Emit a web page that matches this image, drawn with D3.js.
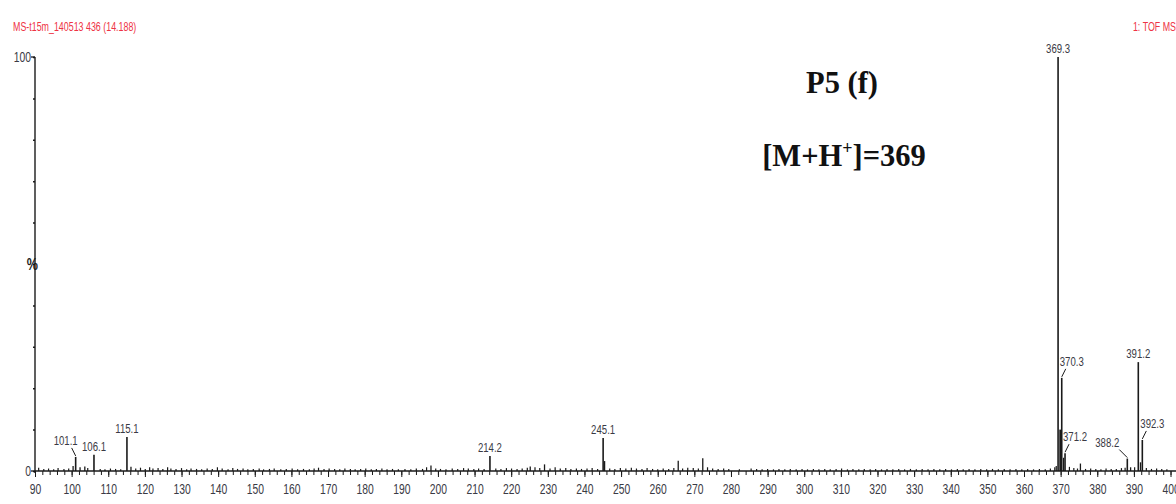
<!DOCTYPE html>
<html>
<head>
<meta charset="utf-8">
<script src="https://cdn.jsdelivr.net/npm/d3@7"></script>
<style>
  html, body { margin: 0; padding: 0; background: #fff; }
  svg { display: block; }
  .narrow { font-family: "Liberation Sans", Arial, sans-serif; }
</style>
</head>
<body>
<svg id="chart" width="1176" height="504"></svg>
<script>
// Spectrum header texts
const runTitle = "MS-t15m_140513 436 (14.188)";
const scanTitle = "1: TOF MS";
const compoundName = "P5 (f)";

// Labelled peaks: m/z, relative intensity (%), label offset direction
const peakMz    = [101.1, 106.1, 115.1, 214.2, 245.1, 369.3, 370.3, 371.2, 388.2, 391.2, 392.3];
const peakInt   = [3.4,   3.9,   8.2,   3.6,   8.0,   100,   22.5,  4.3,   3.0,   26.3,  7.5];
const peakLabel = ["101.1","106.1","115.1","214.2","245.1","369.3","370.3","371.2","388.2","391.2","392.3"];
const peakShift = [-1,    0,     0,     0,     0,     0,     1,     1,     -2,    0,     1];

// Unlabelled secondary peaks
const minorMz  = [100.4, 102.3, 103.6, 116.2, 198.1, 225.2, 229.1, 245.5, 265.6, 272.3, 369.9, 370.8, 375.4, 389.1, 391.8];
const minorInt = [1.2,   0.9,   1.1,   1.0,   1.3,   1.1,   1.6,   2.4,   2.5,   3.1,   10.0,  3.2,   1.8,   0.9,   2.1];

// Baseline chemical noise
const noiseMz = [91.0, 92.4, 93.7, 95.1, 96.3, 97.9, 99.2, 104.4, 107.8, 109.1, 110.6, 112.0, 113.4,
  117.5, 118.8, 120.1, 121.3, 122.2, 123.6, 124.9, 126.2, 127.1, 128.5, 130.0, 131.4, 132.6,
  134.1, 135.5, 137.0, 138.4, 139.8, 141.1, 142.7, 144.0, 145.3, 146.8, 148.1, 149.6, 151.2,
  152.4, 154.0, 155.3, 157.1, 158.6, 160.2, 161.7, 163.3, 164.9, 166.2, 167.4, 168.9, 170.3,
  171.8, 173.2, 174.6, 176.1, 177.4, 178.9, 180.3, 181.8, 183.2, 184.7, 186.1, 187.6, 189.2,
  191.0, 192.6, 194.1, 195.8, 196.9, 199.4, 200.7, 202.2, 203.9, 205.4, 207.0, 208.3, 209.8,
  211.1, 212.6, 215.8, 217.2, 218.7, 220.1, 221.6, 223.0, 224.4, 226.5, 227.8, 230.6, 232.0,
  233.4, 234.9, 236.3, 237.8, 239.2, 240.7, 242.1, 243.6, 246.9, 248.3, 249.8, 251.3, 252.8,
  254.2, 255.7, 257.1, 258.6, 260.0, 261.5, 263.0, 264.4, 266.8, 268.2, 269.7, 271.1, 273.6,
  275.0, 276.5, 278.0, 279.4, 282.3, 285.5, 287.0, 288.5, 290.0, 291.6, 293.1, 294.7, 296.2,
  297.8, 299.4, 300.9, 302.5, 304.0, 305.6, 307.1, 308.7, 310.2, 311.8, 313.3, 314.9, 316.4,
  318.0, 319.5, 321.1, 322.6, 324.2, 325.8, 327.4, 329.0, 330.6, 332.2, 333.8, 335.4, 337.0,
  338.6, 340.2, 341.8, 343.4, 345.0, 346.6, 348.2, 349.8, 351.4, 353.0, 354.6, 356.2, 357.8,
  359.4, 361.0, 362.6, 364.2, 365.8, 367.2, 368.4, 368.8, 372.4, 373.6, 374.6, 376.8, 378.2,
  379.6, 381.0, 382.4, 383.8, 385.2, 386.6, 387.6, 390.2, 393.4, 394.8, 396.2, 397.6, 399.0];
const noiseInt = [0.8, 0.5, 0.6, 0.4, 0.7, 0.5, 0.6, 0.7, 0.5, 0.4, 0.6, 0.5, 0.4,
  0.6, 0.8, 0.5, 0.9, 0.6, 0.7, 0.5, 0.9, 0.6, 0.5, 0.7, 0.4, 0.6,
  0.5, 0.4, 0.6, 0.5, 0.9, 0.6, 0.4, 0.7, 0.5, 0.6, 0.4, 0.5, 0.6,
  0.4, 0.5, 0.6, 0.4, 0.5, 0.6, 0.4, 0.5, 0.4, 0.6, 0.8, 0.5, 0.6,
  0.5, 0.4, 0.6, 0.5, 0.4, 0.5, 0.6, 0.4, 0.5, 0.6, 0.4, 0.5, 0.4,
  0.5, 0.4, 0.6, 0.5, 0.9, 0.6, 0.5, 0.4, 0.6, 0.5, 0.7, 0.6, 0.5,
  0.6, 0.5, 0.6, 0.5, 0.7, 0.6, 0.5, 0.6, 0.8, 0.9, 0.7, 0.6, 0.9,
  0.6, 0.7, 0.5, 0.6, 0.5, 0.6, 0.7, 0.5, 0.6, 0.5, 0.7, 0.6, 0.8,
  0.6, 0.5, 0.7, 0.5, 0.4, 0.6, 0.5, 0.7, 0.6, 0.8, 0.7, 0.6, 0.9,
  0.6, 0.5, 0.6, 0.5, 0.4, 0.6, 0.5, 0.4, 0.5, 0.4, 0.5, 0.4, 0.5,
  0.4, 0.5, 0.4, 0.5, 0.4, 0.5, 0.4, 0.5, 0.6, 0.4, 0.5, 0.4, 0.5,
  0.4, 0.5, 0.4, 0.5, 0.4, 0.5, 0.4, 0.5, 0.4, 0.5, 0.4, 0.5, 0.4,
  0.5, 0.4, 0.5, 0.4, 0.5, 0.4, 0.5, 0.4, 0.5, 0.4, 0.5, 0.4, 0.5,
  0.4, 0.5, 0.4, 0.5, 0.4, 0.6, 0.9, 1.2, 1.0, 0.7, 0.6, 0.5, 0.6,
  0.5, 0.4, 0.6, 0.5, 0.5, 0.7, 0.8, 0.9, 0.7, 0.5, 0.6, 0.5, 0.4];

// Axis ticks
const xTickValues = [90, 100, 110, 120, 130, 140, 150, 160, 170, 180, 190, 200, 210, 220, 230, 240, 250,
  260, 270, 280, 290, 300, 310, 320, 330, 340, 350, 360, 370, 380, 390, 400];
const yTickValues = [0, 10, 20, 30, 40, 50, 60, 70, 80, 90, 100];

const svg = d3.select("#chart");
const margin = { left: 35, top: 57, bottom: 471 };
const squeeze = 0.74;   // condensed instrument-software lettering

const x = d3.scaleLinear().domain([90, 400]).range([margin.left, margin.left + 310 * 3.663]);
const y = d3.scaleLinear().domain([0, 100]).range([margin.bottom, margin.top]);

const red = "#ee3344";
const ink = "#1a1a1a";
const labelInk = "#3a3a44";

// condensed text placed at (tx, ty)
function narrow(parent, tx, ty, str, size, fill, anchor) {
  return parent.append("text").attr("class", "narrow")
    .attr("transform", `translate(${tx},${ty}) scale(${squeeze},1)`)
    .attr("text-anchor", anchor || "start")
    .attr("font-size", size).attr("fill", fill)
    .text(str);
}

// header
narrow(svg, 13, 31, runTitle, 12, red);
narrow(svg, 1176, 31, scanTitle, 12, red, "end");

// x axis: baseline with minor ticks every 2 units, major every 10
const xAxisG = svg.append("g").attr("transform", `translate(0,${margin.bottom})`);
xAxisG.call(d3.axisBottom(x).tickValues(d3.range(90, 401, 2)).tickSize(4).tickFormat(""))
  .call(g => g.select(".domain").remove());
xAxisG.selectAll(".tick line").attr("stroke", ink);
const xMajor = svg.append("g").attr("transform", `translate(0,${margin.bottom})`)
  .call(d3.axisBottom(x).tickValues(xTickValues).tickSize(6).tickFormat(d3.format("d")).tickPadding(7));
xMajor.select(".domain").remove();
xMajor.selectAll(".tick line").attr("stroke", ink);
xMajor.selectAll(".tick text")
  .attr("class", "narrow").attr("font-size", 14).attr("fill", labelInk)
  .attr("transform", `scale(${squeeze},1)`);
svg.append("line")
  .attr("x1", x(90)).attr("x2", 1176)
  .attr("y1", margin.bottom).attr("y2", margin.bottom)
  .attr("stroke", ink).attr("stroke-width", 1.4);

// y axis
const yAxisG = svg.append("g").attr("transform", `translate(${margin.left},0)`)
  .call(d3.axisLeft(y).tickValues(yTickValues).tickSize(2).tickFormat(""));
yAxisG.select(".domain").remove();
yAxisG.selectAll(".tick line").attr("stroke", ink).attr("stroke-width", 1.5);
svg.append("line")
  .attr("x1", margin.left).attr("x2", margin.left)
  .attr("y1", y(100)).attr("y2", margin.bottom + 2)
  .attr("stroke", ink).attr("stroke-width", 1.4);
svg.append("line")
  .attr("x1", margin.left - 4).attr("x2", margin.left)
  .attr("y1", y(100)).attr("y2", y(100))
  .attr("stroke", ink).attr("stroke-width", 1.3);
svg.append("line")
  .attr("x1", margin.left - 4).attr("x2", margin.left)
  .attr("y1", y(0)).attr("y2", y(0))
  .attr("stroke", ink).attr("stroke-width", 1.3);
[[100, "100"], [0, "0"]].forEach(d => narrow(svg, margin.left - 4, y(d[0]) + 5, d[1], 14, labelInk, "end"));
narrow(svg, margin.left + 3, y(50) + 6, "%", 17, ink, "end").attr("font-weight", "bold");

// spectrum sticks
const sticks = svg.append("g").attr("stroke", ink);
sticks.selectAll(".noise").data(d3.zip(noiseMz, noiseInt)).enter().append("line")
  .attr("x1", d => x(d[0])).attr("x2", d => x(d[0]))
  .attr("y1", y(0)).attr("y2", d => y(d[1])).attr("stroke-width", 1.2);
sticks.selectAll(".minor").data(d3.zip(minorMz, minorInt)).enter().append("line")
  .attr("x1", d => x(d[0])).attr("x2", d => x(d[0]))
  .attr("y1", y(0)).attr("y2", d => y(d[1])).attr("stroke-width", d => d[1] > 5 ? 2 : 1.3);
sticks.selectAll(".peak").data(d3.zip(peakMz, peakInt)).enter().append("line")
  .attr("x1", d => x(d[0])).attr("x2", d => x(d[0]))
  .attr("y1", y(0)).attr("y2", d => y(d[1])).attr("stroke-width", 1.6);

// peak labels, offset ones drawn with a short leader
const peaks = peakMz.map((mz, i) => ({ mz, v: peakInt[i], label: peakLabel[i], shift: peakShift[i] }));
peaks.forEach(p => {
  const px = x(p.mz), py = y(p.v);
  if (p.shift === 0) {
    narrow(svg, px, py - 4, p.label, 13, labelInk, "middle");
  } else {
    svg.append("line")
      .attr("x1", px).attr("y1", py - 1)
      .attr("x2", px + p.shift * 4).attr("y2", py - 9)
      .attr("stroke", ink).attr("stroke-width", 1);
    narrow(svg, px + p.shift * 10, py - 12, p.label, 13, labelInk, "middle");
  }
});

// compound annotation
svg.append("text")
  .attr("x", 842).attr("y", 93)
  .attr("text-anchor", "middle")
  .attr("font-family", "'Liberation Serif', 'Times New Roman', serif")
  .attr("font-weight", "bold").attr("font-size", 30.5).attr("fill", "#111")
  .text(compoundName);
const ion = svg.append("text")
  .attr("x", 844).attr("y", 166)
  .attr("text-anchor", "middle")
  .attr("font-family", "'Liberation Serif', 'Times New Roman', serif")
  .attr("font-weight", "bold").attr("font-size", 30.5).attr("fill", "#111");
ion.append("tspan").text("[M+H");
ion.append("tspan").attr("font-size", 18).attr("dy", -12).text("+");
ion.append("tspan").attr("dy", 12).text("]=369");
</script>
</body>
</html>
